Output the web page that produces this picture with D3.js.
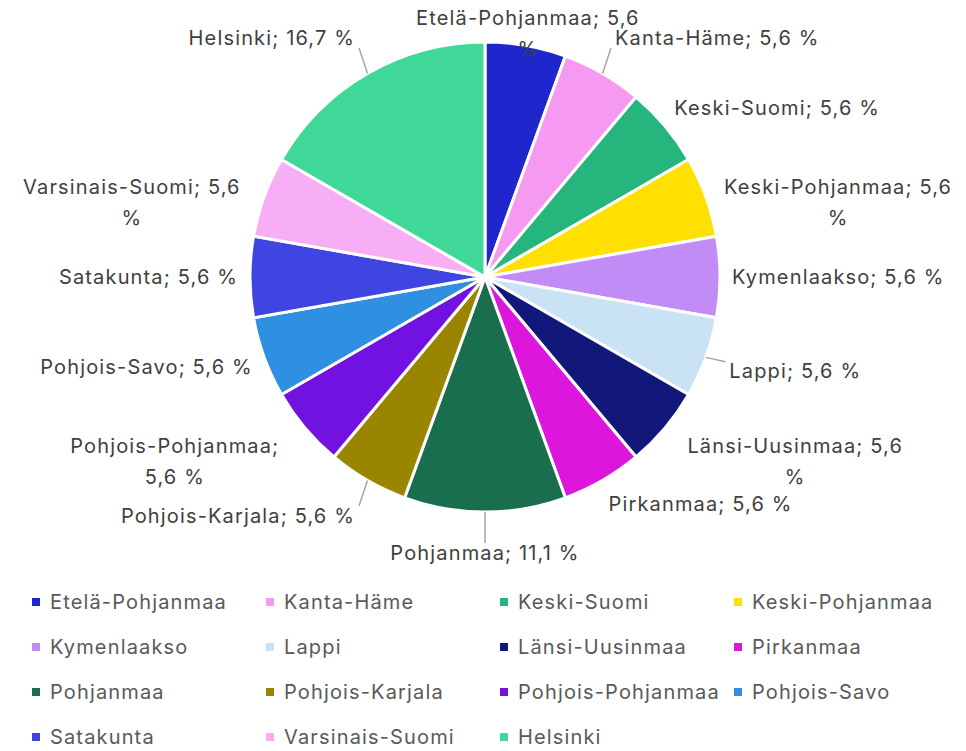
<!DOCTYPE html>
<html>
<head>
<meta charset="utf-8">
<script src="https://cdn.jsdelivr.net/npm/d3@7"></script>
<style>
  body { margin: 0; background: #fff; }
  svg { font-family: Inter, "Noto Sans", sans-serif; display: block; }
  text { letter-spacing: 1.15px; }
</style>
</head>
<body>
<svg id="chart"></svg>
<script>
// Data
const regions = ["Etelä-Pohjanmaa", "Kanta-Häme", "Keski-Suomi", "Keski-Pohjanmaa", "Kymenlaakso",
  "Lappi", "Länsi-Uusinmaa", "Pirkanmaa", "Pohjanmaa", "Pohjois-Karjala", "Pohjois-Pohjanmaa",
  "Pohjois-Savo", "Satakunta", "Varsinais-Suomi", "Helsinki"];
const counts = [1, 1, 1, 1, 1, 1, 1, 1, 2, 1, 1, 1, 1, 1, 3];
const colors = ["#1f26cc", "#f59af0", "#26b57c", "#ffe000", "#c28cf7", "#c9e3f5", "#12177a",
  "#dc16dc", "#186e4d", "#9a8500", "#7212e0", "#2f8fe0", "#3f45e0", "#f8aef5", "#40d898"];
const leaderRegions = ["Kanta-Häme", "Lappi", "Pohjanmaa", "Pohjois-Karjala", "Helsinki"];

drawChart();

function drawChart() {
  let width      = 966,
    height       = 751,
    cx           = 485,
    cy           = 277,
    radius       = 235,
    labelGap     = 12,
    leaderGap    = 25,
    maxLabelW    = 242,
    lineH        = 31,
    fontSize     = 20,
    total        = d3.sum(counts),
    fmt          = d3.format(".1f"),
    color        = d3.scaleOrdinal(regions, colors),
    data         = regions.map((name, i) => ({name: name, value: counts[i]})),
    svg          = d3.select("#chart").attr("width", width).attr("height", height);

  let pie = d3.pie().sort(null).value(d => d.value);
  let arc = d3.arc().innerRadius(0).outerRadius(radius);
  let arcs = pie(data);

  let g = svg.append("g").attr("transform", "translate(" + cx + "," + cy + ")");

  g.selectAll("path")
    .data(arcs)
    .enter().append("path")
    .attr("d", arc)
    .attr("fill", d => color(d.data.name))
    .attr("stroke", "#fff")
    .attr("stroke-width", 3)
    .attr("stroke-linejoin", "round");

  // measuring helper for wrapping labels
  let probe = svg.append("text").attr("font-size", fontSize).attr("visibility", "hidden");
  function measure(s) {
    probe.text(s);
    return probe.node().getComputedTextLength();
  }
  function wrap(s) {
    let words = s.split(" "), lines = [], cur = "";
    words.forEach(w => {
      let test = cur ? cur + " " + w : w;
      if (cur && measure(test) > maxLabelW) { lines.push(cur); cur = w; }
      else cur = test;
    });
    lines.push(cur);
    return lines;
  }

  let labels = svg.append("g");
  let leaders = svg.append("g");

  arcs.forEach(d => {
    let pct   = fmt(d.data.value / total * 100).replace(".", ","),
      text    = d.data.name + "; " + pct + " %",
      lines   = wrap(text),
      // wrapped labels take the full label box width
      w       = lines.length > 1 ? maxLabelW : measure(lines[0]),
      h       = lines.length * lineH,
      mid     = (d.startAngle + d.endAngle) / 2,
      ux      = Math.sin(mid),
      uy      = -Math.cos(mid),
      leader  = leaderRegions.includes(d.data.name),
      r       = radius + (leader ? leaderGap : labelGap),
      px      = cx + ux * r,
      py      = cy + uy * r,
      left, top;

    if (Math.abs(ux) < 0.2) left = px - w / 2;
    else if (ux > 0) left = px;
    else left = px - w;
    top = py - lineH / 2 + uy * lineH / 2;

    left = Math.max(4, Math.min(width - 4 - w, left));
    top = Math.max(2, top);

    let t = labels.append("text")
      .attr("font-size", fontSize)
      .attr("fill", "#404040")
      .attr("text-anchor", "middle");
    lines.forEach((ln, i) => {
      t.append("tspan")
        .attr("x", left + w / 2)
        .attr("y", top + lineH * i + lineH / 2)
        .attr("dy", "0.35em")
        .text(ln);
    });

    if (leader) {
      let ax = cx + ux * radius,
        ay = cy + uy * radius,
        nx = Math.max(left - 4, Math.min(left + w + 4, ax)),
        ny = Math.max(top + 6, Math.min(top + h - 6, ay));
      leaders.append("line")
        .attr("x1", ax).attr("y1", ay)
        .attr("x2", nx).attr("y2", ny)
        .attr("stroke", "#a6a6a6")
        .attr("stroke-width", 1.5);
    }
  });
  probe.remove();

  // Legend
  let legendX = 32, legendY = 602, colW = 234, rowH = 45, cols = 4;
  let legend = svg.append("g")
    .selectAll("g")
    .data(regions)
    .enter().append("g")
    .attr("transform", (d, i) => "translate(" + (legendX + (i % cols) * colW) + "," + (legendY + Math.floor(i / cols) * rowH) + ")");

  legend.append("rect")
    .attr("x", 0).attr("y", -4)
    .attr("width", 8).attr("height", 8)
    .attr("fill", d => color(d));

  legend.append("text")
    .attr("x", 18)
    .attr("dy", "0.35em")
    .attr("font-size", fontSize)
    .attr("fill", "#595959")
    .text(d => d);
}
</script>
</body>
</html>
